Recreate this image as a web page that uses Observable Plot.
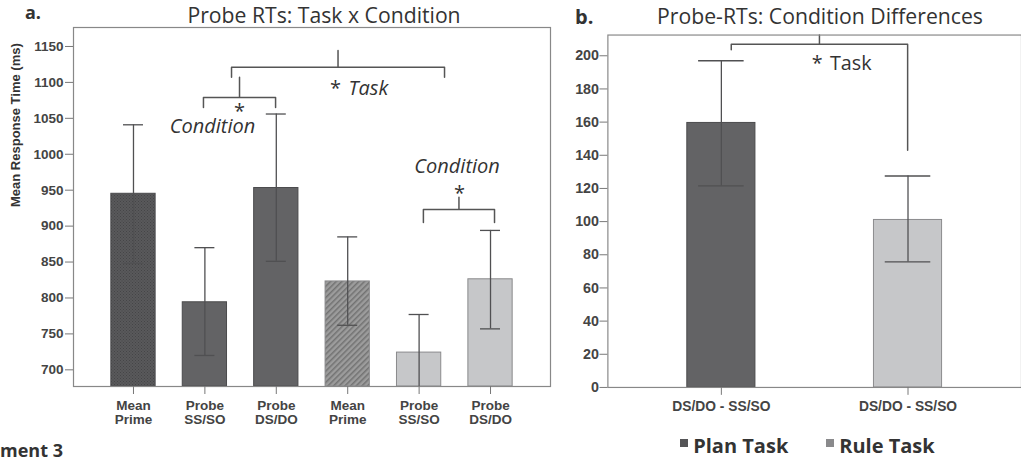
<!DOCTYPE html>
<html>
<head>
<meta charset="utf-8">
<script src="https://cdn.jsdelivr.net/npm/d3@7"></script>
<script src="https://cdn.jsdelivr.net/npm/@observablehq/plot@0.6"></script>
<style>
  html, body { margin: 0; padding: 0; background: #fff; }
  #wrap { position: relative; width: 1021px; height: 461px; overflow: hidden; background: #fff; }
  .abs { position: absolute; white-space: nowrap; font-family: "Open Sans", sans-serif; line-height: 20px; color: #333; }
  .title { font-size: 20px; }
  .big { font-size: 21.2px; line-height: normal; }
  .bold { font-weight: bold; }
  .sw { display: inline-block; width: 8px; height: 8px; vertical-align: top; margin-top: 3px; }
</style>
</head>
<body>
<svg width="0" height="0" style="position:absolute">
  <defs>
    <pattern id="cross" width="3" height="3" patternUnits="userSpaceOnUse">
      <rect width="3" height="3" fill="#59595b"></rect>
      <rect width="1" height="1" fill="#454547"></rect>
      <rect x="1.5" y="1.5" width="1" height="1" fill="#454547"></rect>
    </pattern>
    <pattern id="hatch" width="4" height="4" patternUnits="userSpaceOnUse" patternTransform="rotate(45)">
      <rect width="4" height="4" fill="#9c9c9c"></rect>
      <rect width="1.5" height="4" fill="#727272"></rect>
    </pattern>
  </defs>
</svg>
<div id="wrap">
  <div id="plotA" style="position:absolute;left:0;top:0"></div>
  <div id="plotB" style="position:absolute;left:560px;top:0"></div>
  <div class="abs bold" style="left:25px;top:0px;font-size:18px;line-height:normal">a.</div>
  <div class="abs big" style="left:324px;top:0px;transform:translateX(-50%)">Probe RTs: Task x Condition</div>
  <div class="abs title bold" style="left:575px;top:7px">b.</div>
  <div class="abs big" style="left:820px;top:1px;transform:translateX(-50%)">Probe-RTs: Condition Differences</div>
  <div class="abs title bold" style="left:680px;top:436px"><span class="sw" style="background:#555557"></span> Plan Task</div>
  <div class="abs title bold" style="left:826px;top:436px"><span class="sw" style="background:#8a8a8c"></span> Rule Task</div>
  <div class="abs bold" style="left:0;top:441px;font-size:18px;line-height:18px">ment 3</div>
</div>
<script>
// ---------- Panel a: Probe RTs: Task x Condition ----------
const categoriesA = ["Mean\nPrime", "Probe\nSS/SO", "Probe\nDS/DO", "Mean\nPrime", "Probe\nSS/SO", "Probe\nDS/DO"];
const kindsA = ["prime", "probe", "probe", "prime", "probe", "probe"];
const tasksA = ["Plan", "Plan", "Plan", "Rule", "Rule", "Rule"];
const meansA = [945, 794, 953, 823, 724, 826];
const errLowA = [848, 720, 851, 762, 672, 757];
const errHighA = [1041, 870, 1056, 885, 777, 894];
const yTicksA = [700, 750, 800, 850, 900, 950, 1000, 1050, 1100, 1150];

// significance brackets (x in bar-index units, y in ms)
const bracketsA = [
  {id: "cond1", x1: 0.98, x2: 1.99, y: 1079, lowL: 1065, lowR: 1065, top: 1107},
  {id: "task", x1: 1.373, x2: 4.356, y: 1121, lowL: 1107, lowR: 1107, top: 1144.5},
  {id: "cond2", x1: 4.06, x2: 5.056, y: 923, lowL: 905, lowR: 905, top: 940}
];
const notesA = [
  {x: 1.485, y: 1050, text: "*", italic: false, anchor: "middle"},
  {x: 1.106, y: 1029, text: "Condition", italic: true, anchor: "middle"},
  {x: 2.83, y: 1082, text: "*", italic: false, anchor: "middle"},
  {x: 3.011, y: 1082, text: "Task", italic: true, anchor: "start"},
  {x: 4.566, y: 936, text: "*", italic: false, anchor: "middle"},
  {x: 4.531, y: 974, text: "Condition", italic: true, anchor: "middle"}
];

// ---------- Panel b: Probe-RTs: Condition Differences ----------
const categoriesB = ["DS/DO - SS/SO", "DS/DO - SS/SO"];
const tasksB = ["Plan", "Rule"];
const meansB = [159.5, 101];
const errLowB = [121.5, 75.7];
const errHighB = [197, 127.5];
const yTicksB = [0, 20, 40, 60, 80, 100, 120, 140, 160, 180, 200];
const bracketsB = [
  {id: "taskB", x1: 0.053, x2: 0.998, y: 207, lowL: 203.6, lowR: 143, top: 212.5}
];
const notesB = [
  {x: 0.513, y: 191.7, text: "*", italic: false, anchor: "middle"},
  {x: 0.582, y: 191.7, text: "Task", italic: false, anchor: "start"}
];

const taskFill = {Plan: "#636365", Rule: "#c6c7c9"};
const taskStroke = {Plan: "#4a4a4c", Rule: "#8a8a8c"};
const primeFill = {Plan: "url(#cross)", Rule: "url(#hatch)"};

function bracketPoints(brs) {
  const pts = [];
  for (const b of brs) {
    const xm = (b.x1 + b.x2) / 2;
    pts.push({id: b.id, x: b.x1, y: b.lowL}, {id: b.id, x: b.x1, y: b.y},
             {id: b.id, x: xm, y: b.y}, {id: b.id, x: xm, y: b.top},
             {id: b.id, x: xm, y: b.y}, {id: b.id, x: b.x2, y: b.y},
             {id: b.id, x: b.x2, y: b.lowR});
  }
  return pts;
}

const dataA = categoriesA.map((c, i) => ({i, c, kind: kindsA[i], task: tasksA[i], mean: meansA[i], lo: errLowA[i], hi: errHighA[i]}));
const dataB = categoriesB.map((c, i) => ({i, c, task: tasksB[i], mean: meansB[i], lo: errLowB[i], hi: errHighB[i]}));

const yDomA = [676.8, 1176.4];
const halfA = 0.31, capA = 0.14;
const axisFont = "Liberation Sans, Arial, sans-serif";
const noteFont = "Open Sans, sans-serif";
const plain = d3.format("d");

const textMarks = (notes) => [false, true].flatMap(it => ["middle", "start"].map(anchor =>
  Plot.text(notes.filter(d => d.italic === it && d.anchor === anchor), {x: "x", y: "y", text: "text", textAnchor: anchor, lineAnchor: "bottom",
    fontSize: 20, fontFamily: noteFont, fontStyle: it ? "italic" : "normal", fill: "#333"})));

const plotA = Plot.plot({
  width: 560, height: 461,
  marginLeft: 73, marginRight: 10, marginTop: 27, marginBottom: 75,
  style: {fontFamily: axisFont, background: "transparent"},
  x: {type: "linear", domain: [-0.84, 5.84], axis: null},
  y: {domain: yDomA, axis: null},
  marks: [
    Plot.rect(dataA, {x1: d => d.i - halfA, x2: d => d.i + halfA, y1: yDomA[0], y2: "mean",
      fill: d => d.kind === "prime" ? primeFill[d.task] : taskFill[d.task],
      stroke: d => taskStroke[d.task], strokeWidth: 1}),
    Plot.ruleX(dataA, {x: "i", y1: "lo", y2: "hi", stroke: "#505052", strokeWidth: 1.3, clip: true}),
    Plot.ruleY(dataA.filter(d => d.lo >= yDomA[0]), {y: "lo", x1: d => d.i - capA, x2: d => d.i + capA, stroke: "#505052", strokeWidth: 1.3}),
    Plot.ruleY(dataA, {y: "hi", x1: d => d.i - capA, x2: d => d.i + capA, stroke: "#505052", strokeWidth: 1.3}),
    Plot.line(bracketPoints(bracketsA), {x: "x", y: "y", z: "id", stroke: "#555", strokeWidth: 1.5, strokeLinejoin: "round"}),
    ...textMarks(notesA),
    Plot.frame({stroke: "#888", strokeWidth: 1.2}),
    Plot.axisY({ticks: yTicksA, tickFormat: plain, tickSize: 8, tickPadding: 2, stroke: "#777", fill: "#444", fontSize: 13.5, fontWeight: "bold", fontFamily: axisFont, label: null}),
    Plot.axisX({ticks: dataA.map(d => d.i), tickFormat: i => categoriesA[i], tickSize: 8, tickPadding: 6, stroke: "#777", fill: "#444",
      fontSize: 13.5, fontWeight: "bold", fontFamily: axisFont, lineHeight: 1.0, label: null}),
    Plot.text(["Mean Response Time (ms)"], {frameAnchor: "left", dx: -58, rotate: -90, fontWeight: "bold", fontSize: 13, fontFamily: axisFont, fill: "#333"})
  ]
});
document.getElementById("plotA").appendChild(plotA);

const yDomB = [0, 212.5];
const halfB = 0.1825, capB = 0.122;
const plotB = Plot.plot({
  width: 467, height: 461,
  marginLeft: 48, marginRight: 0, marginTop: 35, marginBottom: 69,
  style: {fontFamily: axisFont, background: "transparent"},
  x: {type: "linear", domain: [-0.608, 1.608], axis: null},
  y: {domain: yDomB, axis: null},
  marks: [
    Plot.rect(dataB, {x1: d => d.i - halfB, x2: d => d.i + halfB, y1: 0, y2: "mean",
      fill: d => taskFill[d.task], stroke: d => taskStroke[d.task], strokeWidth: 1}),
    Plot.ruleX(dataB, {x: "i", y1: "lo", y2: "hi", stroke: "#505052", strokeWidth: 1.3}),
    Plot.ruleY(dataB, {y: "lo", x1: d => d.i - capB, x2: d => d.i + capB, stroke: "#505052", strokeWidth: 1.3}),
    Plot.ruleY(dataB, {y: "hi", x1: d => d.i - capB, x2: d => d.i + capB, stroke: "#505052", strokeWidth: 1.3}),
    Plot.line(bracketPoints(bracketsB), {x: "x", y: "y", z: "id", stroke: "#555", strokeWidth: 1.5, strokeLinejoin: "round"}),
    ...textMarks(notesB),
    Plot.frame({stroke: "#888", strokeWidth: 1.2}),
    Plot.axisY({ticks: yTicksB, tickFormat: plain, tickSize: 8, tickPadding: 1, stroke: "#777", fill: "#444", fontSize: 14.5, fontWeight: "bold", fontFamily: axisFont, label: null}),
    Plot.axisX({ticks: dataB.map(d => d.i), tickFormat: i => categoriesB[i], tickSize: 8, tickPadding: 6, stroke: "#777", fill: "#444",
      fontSize: 14, fontWeight: "bold", fontFamily: axisFont, label: null})
  ]
});
document.getElementById("plotB").appendChild(plotB);
</script>
</body>
</html>
